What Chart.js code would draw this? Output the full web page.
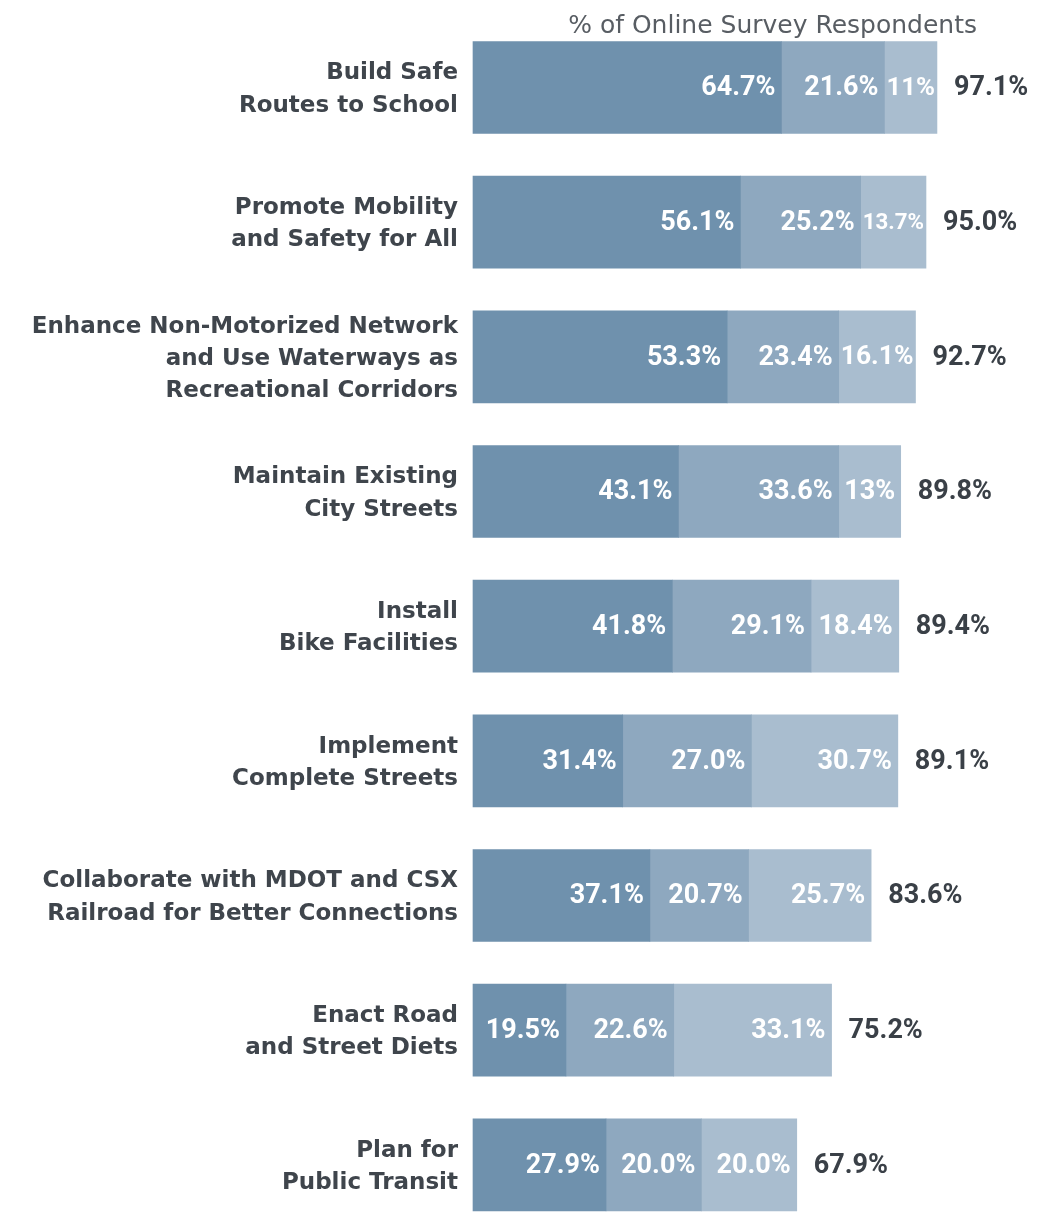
<!DOCTYPE html>
<html>
<head>
<meta charset="utf-8">
<script src="https://cdn.jsdelivr.net/npm/chart.js@4/dist/chart.umd.min.js"></script>
<style>
  html, body { margin: 0; padding: 0; background: #ffffff; }
  canvas { display: block; }
</style>
</head>
<body>
<canvas id="c" width="1040" height="1212"></canvas>
<script>
const categories = [
  ["Build Safe", "Routes to School"],
  ["Promote Mobility", "and Safety for All"],
  ["Enhance Non-Motorized Network", "and Use Waterways as", "Recreational Corridors"],
  ["Maintain Existing", "City Streets"],
  ["Install", "Bike Facilities"],
  ["Implement", "Complete Streets"],
  ["Collaborate with MDOT and CSX", "Railroad for Better Connections"],
  ["Enact Road", "and Street Diets"],
  ["Plan for", "Public Transit"]
];
const seriesDark  = [64.7, 56.1, 53.3, 43.1, 41.8, 31.4, 37.1, 19.5, 27.9];
const seriesMid   = [21.6, 25.2, 23.4, 33.6, 29.1, 27.0, 20.7, 22.6, 20.0];
const seriesLight = [11.0, 13.7, 16.1, 13.0, 18.4, 30.7, 25.7, 33.1, 20.0];
const totals      = [97.1, 95.0, 92.7, 89.8, 89.4, 89.1, 83.6, 75.2, 67.9];
const labelsDark  = ["64.7%", "56.1%", "53.3%", "43.1%", "41.8%", "31.4%", "37.1%", "19.5%", "27.9%"];
const labelsMid   = ["21.6%", "25.2%", "23.4%", "33.6%", "29.1%", "27.0%", "20.7%", "22.6%", "20.0%"];
const labelsLight = ["11%", "13.7%", "16.1%", "13%", "18.4%", "30.7%", "25.7%", "33.1%", "20.0%"];
const totalLabels = ["97.1%", "95.0%", "92.7%", "89.8%", "89.4%", "89.1%", "83.6%", "75.2%", "67.9%"];
const chartTitle = "% of Online Survey Respondents";

const segLabels = [labelsDark, labelsMid, labelsLight];

const barLabelPlugin = {
  id: 'barLabels',
  afterDatasetsDraw(chart) {
    const ctx = chart.ctx;
    ctx.save();
    ctx.textBaseline = 'middle';
    chart.data.datasets.forEach((ds, di) => {
      const meta = chart.getDatasetMeta(di);
      meta.data.forEach((bar, i) => {
        const txt = segLabels[di][i];
        const w = Math.abs(bar.x - bar.base);
        let size = 27;
        ctx.font = 'bold ' + size + 'px Roboto';
        let tw = ctx.measureText(txt).width;
        const maxW = w - 4;
        if (tw > maxW) {
          size = size * maxW / tw;
          ctx.font = 'bold ' + size + 'px Roboto';
          tw = ctx.measureText(txt).width;
        }
        const pad = Math.min(6, Math.max(2, (w - tw) / 2));
        ctx.fillStyle = '#ffffff';
        ctx.textAlign = 'right';
        ctx.fillText(txt, bar.x - pad, bar.y + 1);
      });
    });
    const last = chart.getDatasetMeta(chart.data.datasets.length - 1);
    ctx.font = 'bold 27px Roboto';
    ctx.fillStyle = '#3a4047';
    ctx.textAlign = 'left';
    last.data.forEach((bar, i) => {
      ctx.fillText(totalLabels[i], bar.x + 17, bar.y + 1);
    });
    ctx.restore();
  }
};

new Chart(document.getElementById('c').getContext('2d'), {
  type: 'bar',
  data: {
    labels: categories,
    datasets: [
      { label: 'Dark', data: seriesDark, backgroundColor: '#6f91ad', barThickness: 92, clip: false },
      { label: 'Mid', data: seriesMid, backgroundColor: '#8ea8bf', barThickness: 92, clip: false },
      { label: 'Light', data: seriesLight, backgroundColor: '#a9bdcf', barThickness: 92, clip: false }
    ]
  },
  options: {
    indexAxis: 'y',
    responsive: false,
    animation: false,
    layout: { padding: { top: 0, right: 63, bottom: 45.5, left: 0 } },
    plugins: {
      legend: { display: false },
      tooltip: { enabled: false },
      title: {
        display: true,
        text: chartTitle,
        align: 'end',
        color: '#585d63',
        font: { family: 'DejaVu Sans', size: 25, weight: 'normal', lineHeight: 1.2 },
        padding: { top: 11, bottom: 46.5 }
      }
    },
    scales: {
      x: { stacked: true, display: false, min: 0, max: 105.7 },
      y: {
        stacked: true,
        offset: false,
        grid: { display: false, drawTicks: false },
        border: { display: false },
        ticks: {
          autoSkip: false,
          color: '#3f454c',
          padding: 15,
          labelOffset: 2,
          font: { family: 'DejaVu Sans', weight: 'bold', size: 23, lineHeight: 1.4 }
        },
        afterFit(scale) { scale.width = 473; }
      }
    }
  },
  plugins: [barLabelPlugin]
});
</script>
</body>
</html>
